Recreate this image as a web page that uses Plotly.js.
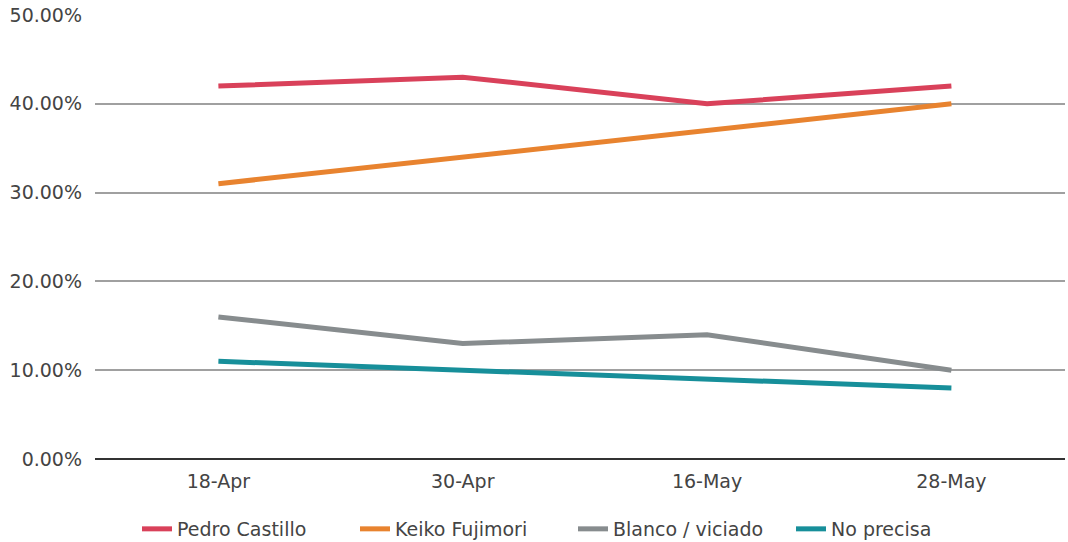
<!DOCTYPE html>
<html>
<head>
<meta charset="utf-8">
<script src="https://cdn.plot.ly/plotly-3.0.1.min.js"></script>
<style>html,body{margin:0;padding:0;background:#fff;}#chart{width:1068px;height:542px;}</style>
</head>
<body>
<div id="chart"></div>
<script>
const categories = ["18-Apr", "30-Apr", "16-May", "28-May"];
const pedroCastillo = [0.42, 0.43, 0.40, 0.42];
const keikoFujimori = [0.31, 0.34, 0.37, 0.40];
const blancoViciado = [0.16, 0.13, 0.14, 0.10];
const noPrecisa = [0.11, 0.10, 0.09, 0.08];
const seriesNames = ["Pedro Castillo", "Keiko Fujimori", "Blanco / viciado", "No precisa"];
const seriesValues = [pedroCastillo, keikoFujimori, blancoViciado, noPrecisa];
const colors = ["#d9415a", "#e8832f", "#878c8e", "#178f9a"];

const traces = seriesValues.map((vals, i) => ({
  x: categories, y: vals, name: seriesNames[i], type: "scatter", mode: "lines",
  line: {color: colors[i], width: 5}
}));

const layout = {
  width: 1068, height: 542,
  margin: {l: 95, r: 3, t: 15, b: 83, autoexpand: false},
  paper_bgcolor: "#fff", plot_bgcolor: "#fff",
  font: {family: "DejaVu Sans, Verdana, sans-serif", size: 19, color: "#444"},
  xaxis: {type: "category", range: [-0.505, 3.465], showgrid: false, zeroline: false,
          showline: false, ticks: "", ticklabelstandoff: 9, tickfont: {size: 19, color: "#444"}},
  yaxis: {range: [0, 0.5], tickvals: [0, 0.1, 0.2, 0.3, 0.4, 0.5], tickformat: ".2%",
          showgrid: true, gridcolor: "#a0a0a0", gridwidth: 2, zeroline: true,
          zerolinecolor: "#333", zerolinewidth: 2, ticks: "", ticklabelstandoff: 12,
          tickfont: {size: 19, color: "#444"}},
  legend: {orientation: "h", x: 137 / 1068, xanchor: "left", xref: "container",
           y: 0.024, yanchor: "middle", yref: "container",
           font: {size: 19, color: "#444"}, entrywidth: 173},
  showlegend: true
};
Plotly.newPlot("chart", traces, layout, {displayModeBar: false, staticPlot: true});
</script>
</body>
</html>
